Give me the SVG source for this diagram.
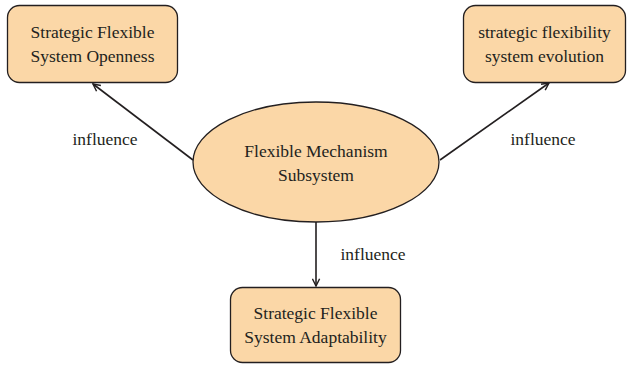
<svg xmlns="http://www.w3.org/2000/svg" width="630" height="366" viewBox="0 0 630 366">
  <style>
    .node { fill: #fbd7a7; stroke: #231f20; stroke-width: 1.3; }
    .lbl { font-family: "Liberation Serif", "DejaVu Serif", serif; font-size: 17.5px; fill: #231f20; text-anchor: middle; }
    .edge { stroke: #231f20; stroke-width: 1.6; fill: none; marker-end: url(#arrow); }
  </style>
  <defs>
    <marker id="arrow" viewBox="0 0 10 10" refX="9" refY="5" markerWidth="9" markerHeight="9" markerUnits="userSpaceOnUse" orient="auto">
      <path d="M1,1 L9,5 L1,9" fill="none" stroke="#231f20" stroke-width="1.6"/>
    </marker>
  </defs>
  <rect width="630" height="366" fill="#ffffff"/>

  <g id="connectors">
    <line class="edge" x1="193" y1="160" x2="93" y2="84"/>
    <line class="edge" x1="440" y1="160" x2="549" y2="83"/>
    <line class="edge" x1="316" y1="222" x2="316" y2="286"/>
    <text class="lbl" x="105" y="145">influence</text>
    <text class="lbl" x="543" y="145">influence</text>
    <text class="lbl" x="373" y="260">influence</text>
  </g>

  <g id="openness">
    <rect class="node" x="7.5" y="5.5" width="170" height="77" rx="12"/>
    <text class="lbl" x="92.5" y="38">Strategic Flexible</text>
    <text class="lbl" x="92.5" y="62">System Openness</text>
  </g>

  <g id="evolution">
    <rect class="node" x="463.5" y="5.5" width="162" height="77" rx="12"/>
    <text class="lbl" x="544.5" y="38">strategic flexibility</text>
    <text class="lbl" x="544.5" y="62">system evolution</text>
  </g>

  <g id="mechanism">
    <ellipse class="node" cx="316" cy="162" rx="123" ry="60"/>
    <text class="lbl" x="316" y="157">Flexible Mechanism</text>
    <text class="lbl" x="316" y="181">Subsystem</text>
  </g>

  <g id="adaptability">
    <rect class="node" x="230.5" y="287.5" width="170" height="75" rx="12"/>
    <text class="lbl" x="315.5" y="319">Strategic Flexible</text>
    <text class="lbl" x="315.5" y="343">System Adaptability</text>
  </g>
</svg>
